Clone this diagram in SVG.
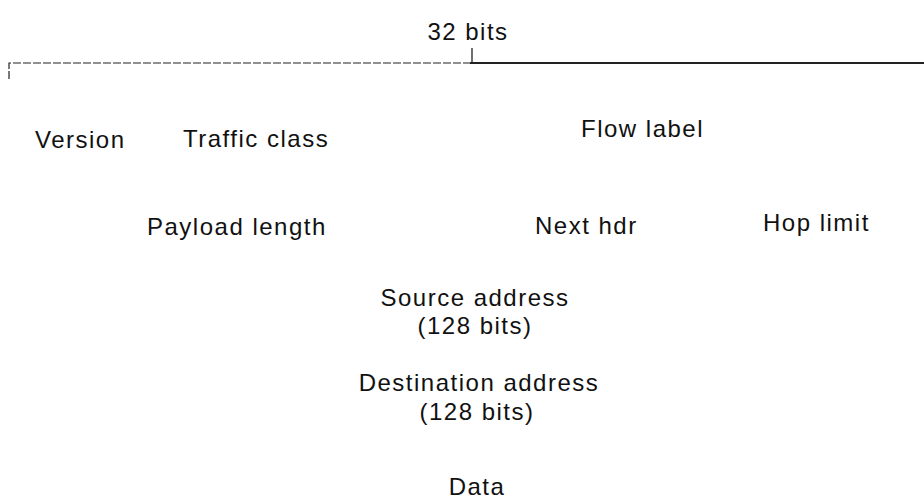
<svg xmlns="http://www.w3.org/2000/svg" width="924" height="502" viewBox="0 0 924 502">
<style>
text{font-family:"Liberation Sans",Arial,sans-serif;font-size:24px;letter-spacing:1.5px;fill:#111}
.m{text-anchor:middle}
.ln{stroke:#222;fill:none}
</style>
<rect width="924" height="502" fill="#fff"/>
<g id="connectors">
<path class="ln" d="M9,79 V63 H470" stroke-width="1.2" stroke-dasharray="8,2"/>
<path class="ln" d="M470,63 H924" stroke-width="1.8"/>
<path class="ln" d="M472,48 V63" stroke-width="1.3"/>
</g>
<g id="width"><text class="m" x="468" y="40">32 bits</text></g>
<g id="version"><text x="35" y="148">Version</text></g>
<g id="traffic"><text x="183" y="147">Traffic class</text></g>
<g id="flow"><text x="581" y="137">Flow label</text></g>
<g id="payload"><text x="147" y="235">Payload length</text></g>
<g id="nexthdr"><text x="535" y="234">Next hdr</text></g>
<g id="hop"><text x="763" y="231">Hop limit</text></g>
<g id="src"><text class="m" x="475" y="306">Source address</text><text class="m" x="475" y="334">(128 bits)</text></g>
<g id="dst"><text class="m" x="479" y="391">Destination address</text><text class="m" x="477" y="420">(128 bits)</text></g>
<g id="data"><text class="m" x="477" y="495">Data</text></g>
</svg>
